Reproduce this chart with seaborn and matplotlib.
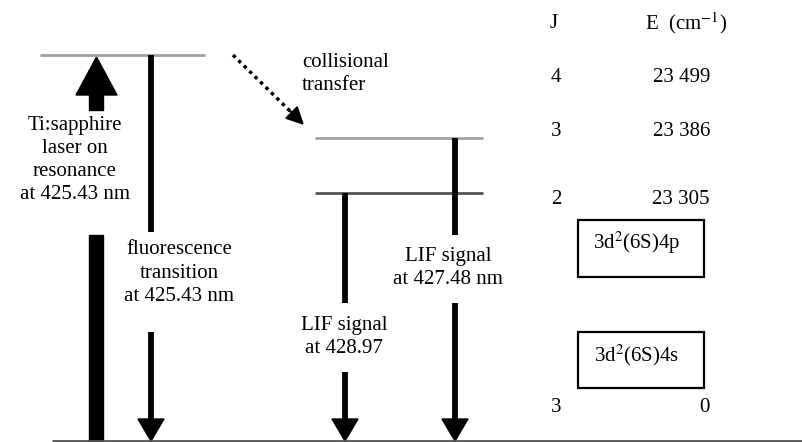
import matplotlib
matplotlib.use("Agg")
import matplotlib.pyplot as plt
import seaborn as sns

# energy table (right column)
table_J = ["4", "3", "2", "3"]
table_E = ["23 499", "23 386", "23 305", "0"]
table_y = [77, 132, 200, 407]

# level lines: (x0, x1, y, colour)
levels = [
    (40, 205, 55, "#a0a0a0"),
    (315, 483, 138, "#a0a0a0"),
    (315, 483, 193, "#555555"),
    (52, 803, 441, "#555555"),
]

# downward transitions: x, top, gap (start, end), label, label centre
down_x = [151, 345, 455]
down_top = [55, 193, 138]
down_gap = [(232, 332), (303, 372), (235, 303)]
down_text = ["fluorescence\ntransition\nat 425.43 nm", "LIF signal\nat 428.97", "LIF signal\nat 427.48 nm"]
down_text_xy = [(179, 273), (344, 337), (448, 268)]

config_names = ["3d$^2$(6S)4p", "3d$^2$(6S)4s"]
config_box_y = [(220, 277), (332, 388)]

sns.set_theme(style="white")
plt.rcParams["font.family"] = ["Liberation Serif", "DejaVu Serif"]
plt.rcParams["mathtext.fontset"] = "stix"
plt.rcParams["text.color"] = "black"

fig, ax = plt.subplots(figsize=(8.03, 4.42), dpi=100)
ax.set_position([0, 0, 1, 1])
ax.set_xlim(0, 803)
ax.set_ylim(442, 0)
ax.axis("off")
fs = 15
ls = 1.3

for x0, x1, y, c in levels:
    ax.plot([x0, x1], [y, y], color=c, lw=2, solid_capstyle="butt")

# laser excitation arrow (thick, upward)
ax.fill([89, 103, 103, 89], [442, 442, 235, 235], color="black")
ax.fill([89, 103, 103, 89], [110, 110, 94, 94], color="black")
ax.fill([76, 117, 96.5], [95, 95, 57], color="black")
ax.text(75, 160, "Ti:sapphire\nlaser on\nresonance\nat 425.43 nm", ha="center", va="center",
        fontsize=fs, linespacing=ls)

# downward transitions
head_y = 419
for x, top, (g0, g1), label, (tx, ty) in zip(down_x, down_top, down_gap, down_text, down_text_xy):
    ax.plot([x, x], [top, g0], color="black", lw=4.2, solid_capstyle="butt")
    ax.plot([x, x], [g1, head_y + 1], color="black", lw=4.2, solid_capstyle="butt")
    ax.fill([x - 13, x + 13, x], [head_y, head_y, 441], color="black")
    ax.text(tx, ty, label, ha="center", va="center", fontsize=fs, linespacing=ls)

# collisional transfer (dotted shaft + solid head)
ax.plot([233, 292], [55, 113], color="black", lw=2.5, linestyle=(0, (1, 1.2)))
ax.annotate("", xy=(304, 125), xytext=(290, 111),
            arrowprops=dict(arrowstyle="-|>,head_length=0.9,head_width=0.45",
                            color="black", lw=1.5, shrinkA=0, shrinkB=0))
ax.text(302, 74, "collisional\ntransfer", ha="left", va="center", fontsize=fs, linespacing=ls)

# right-hand table
ax.text(554, 23, "J", ha="center", va="center", fontsize=fs)
ax.text(686, 23, "E  (cm$^{-1}$)", ha="center", va="center", fontsize=fs)
for j, e, y in zip(table_J, table_E, table_y):
    ax.text(556, y, j, ha="center", va="center", fontsize=fs)
    ax.text(710, y, e, ha="right", va="center", fontsize=fs)

for name, (y0, y1) in zip(config_names, config_box_y):
    ax.add_patch(plt.Rectangle((578, y0), 126, y1 - y0, fill=False, ec="black", lw=1.6))
    ax.text(637, y0 + 23, name, ha="center", va="center", fontsize=fs)

fig.savefig("out.png", dpi=100)
